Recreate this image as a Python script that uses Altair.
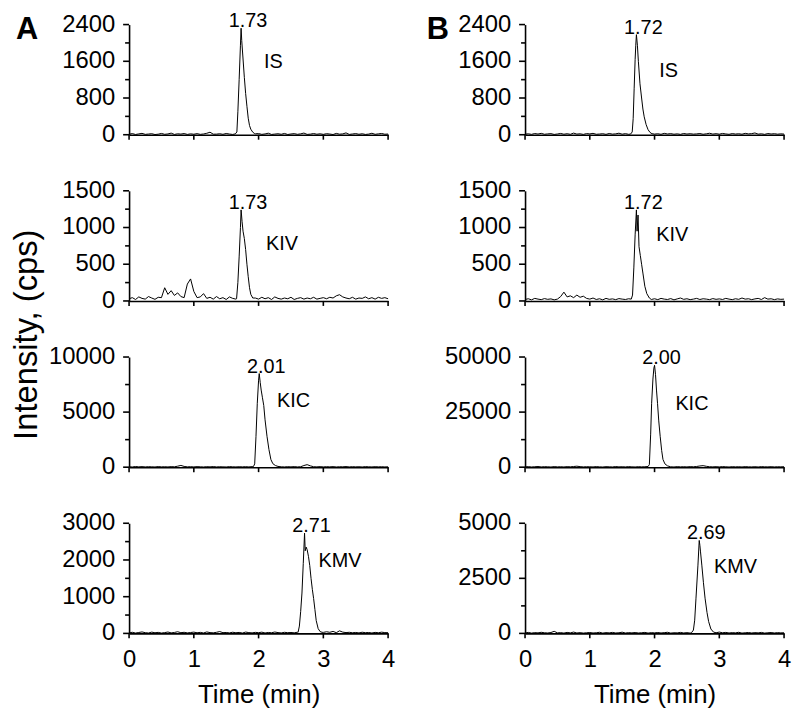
import altair as alt
import pandas as pd

FONT = "Liberation Sans, Arial, Helvetica, sans-serif"

# sampling grid of the baseline (min)
BASE_T = [0.00, 0.05, 0.10, 0.15, 0.20, 0.25, 0.30, 0.35, 0.40, 0.45,
          0.50, 0.55, 0.60, 0.65, 0.70, 0.75, 0.80, 0.85, 0.90, 0.95,
          1.00, 1.05, 1.10, 1.15, 1.20, 1.25, 1.30, 1.35, 1.40, 1.45,
          1.50, 1.55, 1.60, 1.65, 1.70, 1.75, 1.80, 1.85, 1.90, 1.95,
          2.00, 2.05, 2.10, 2.15, 2.20, 2.25, 2.30, 2.35, 2.40, 2.45,
          2.50, 2.55, 2.60, 2.65, 2.70, 2.75, 2.80, 2.85, 2.90, 2.95,
          3.00, 3.05, 3.10, 3.15, 3.20, 3.25, 3.30, 3.35, 3.40, 3.45,
          3.50, 3.55, 3.60, 3.65, 3.70, 3.75, 3.80, 3.85, 3.90, 3.95,
          4.00]

# ---------------- Panel A ----------------
IS_A_BASE = [10, 25, 5, 18, 30, 8, 15, 22, 4, 12, 28, 9, 17, 35, 6, 20, 14, 26, 7, 19,
             11, 24, 8, 16, 31, 55, 12, 13, 21, 9, 27, 15, 6, 18, 10, 22, 14, 30, 12, 20,
             25, 8, 17, 33, 6, 14, 21, 10, 28, 5, 16, 24, 9, 19, 36, 7, 13, 26, 11, 20,
             8, 23, 15, 4, 29, 12, 18, 40, 7, 16, 25, 10, 21, 6, 14, 32, 9, 19, 27, 11,
             15]
IS_A_PEAK_T = [1.64, 1.665, 1.68, 1.70, 1.72, 1.73, 1.74, 1.76, 1.78, 1.80, 1.82, 1.84, 1.86, 1.88, 1.91, 1.94]
IS_A_PEAK_V = [18, 60, 500, 1200, 1950, 2320, 2050, 1650, 1250, 900, 620, 360, 200, 120, 55, 25]

KIV_A_BASE = [30, 45, 20, 55, 35, 25, 60, 40, 22, 50, 45, 180, 90, 140, 75, 110, 60, 45, 230, 300,
              130, 45, 55, 100, 35, 50, 25, 60, 30, 45, 20, 55, 35, 25, 40, 30, 45, 25, 50, 40,
              25, 50, 30, 45, 20, 55, 35, 25, 40, 30, 50, 20, 35, 45, 25, 40, 30, 50, 25, 35,
              45, 30, 50, 40, 70, 85, 55, 40, 30, 50, 25, 40, 35, 55, 30, 45, 25, 50, 35, 45,
              30]
KIV_A_PEAK_T = [1.66, 1.68, 1.70, 1.72, 1.73, 1.745, 1.76, 1.78, 1.80, 1.82, 1.84, 1.86, 1.88, 1.91]
KIV_A_PEAK_V = [30, 250, 600, 1000, 1240, 1080, 950, 850, 700, 500, 330, 180, 90, 40]

KIC_A_BASE = [40, 20, 60, 30, 50, 25, 45, 35, 20, 55, 30, 40, 25, 50, 35, 90, 160, 70, 30, 45,
              25, 50, 35, 20, 45, 30, 55, 25, 40, 30, 20, 50, 35, 25, 40, 30, 45, 25, 50, 35,
              40, 25, 50, 30, 45, 20, 55, 35, 25, 45, 30, 50, 25, 40, 150, 230, 120, 40, 30, 50,
              25, 45, 30, 50, 20, 40, 35, 55, 25, 45, 30, 40, 20, 50, 35, 25, 45, 30, 40, 25,
              35]
KIC_A_PEAK_T = [1.92, 1.94, 1.96, 1.98, 2.00, 2.01, 2.025, 2.04, 2.06, 2.08, 2.10, 2.13, 2.16, 2.19, 2.22, 2.26, 2.30]
KIC_A_PEAK_V = [50, 300, 2800, 5800, 7900, 8500, 7700, 7000, 6300, 5600, 4300, 2800, 1600, 700, 320, 150, 70]

KMV_A_BASE = [15, 30, 10, 25, 40, 20, 12, 35, 18, 28, 10, 22, 38, 15, 26, 45, 20, 30, 14, 24,
              35, 18, 28, 12, 40, 22, 16, 30, 50, 20, 25, 14, 32, 18, 27, 10, 36, 22, 15, 29,
              20, 34, 12, 26, 18, 38, 22, 14, 30, 20, 25, 16, 32, 20, 28, 18, 35, 24, 30, 40,
              28, 45, 30, 55, 20, 70, 35, 22, 30, 18, 26, 14, 32, 20, 25, 12, 28, 18, 34, 22,
              20]
KMV_A_PEAK_T = [2.61, 2.63, 2.65, 2.67, 2.69, 2.71, 2.72, 2.735, 2.75, 2.77, 2.79, 2.81, 2.83, 2.85, 2.87, 2.89, 2.92, 2.95, 2.98]
KMV_A_PEAK_V = [30, 200, 600, 1100, 1900, 2730, 2250, 2350, 2280, 2100, 1850, 1500, 1200, 950, 650, 350, 130, 50, 30]

# ---------------- Panel B ----------------
IS_B_BASE = [12, 20, 8, 26, 15, 30, 10, 18, 24, 6, 16, 28, 11, 22, 9, 35, 14, 20, 7, 25,
             18, 30, 10, 15, 22, 8, 27, 13, 19, 33, 12, 24, 9, 17, 20, 28, 15, 22, 10, 26,
             14, 21, 9, 30, 16, 24, 11, 19, 8, 27, 15, 22, 13, 18, 26, 10, 20, 32, 14, 23,
             12, 28, 17, 9, 25, 15, 21, 11, 30, 18, 24, 38, 13, 20, 8, 26, 16, 22, 12, 19,
             14]
IS_B_PEAK_T = [1.63, 1.655, 1.67, 1.685, 1.70, 1.71, 1.72, 1.735, 1.75, 1.775, 1.80, 1.82, 1.84, 1.87, 1.90, 1.93, 1.96]
IS_B_PEAK_V = [15, 60, 350, 1000, 1640, 1950, 2180, 1950, 1600, 1110, 800, 560, 390, 220, 110, 50, 22]

KIV_B_BASE = [20, 30, 15, 35, 25, 18, 32, 22, 28, 15, 25, 60, 120, 55, 70, 45, 80, 50, 65, 35,
              25, 40, 20, 30, 15, 35, 22, 28, 18, 32, 25, 20, 30, 22, 35, 28, 40, 25, 30, 20,
              30, 18, 35, 25, 20, 32, 15, 28, 40, 22, 30, 18, 25, 35, 20, 30, 25, 18, 32, 22,
              28, 20, 35, 25, 18, 30, 22, 40, 25, 30, 18, 28, 35, 20, 45, 25, 30, 18, 28, 22,
              25]
KIV_B_PEAK_T = [1.64, 1.66, 1.68, 1.70, 1.72, 1.73, 1.745, 1.76, 1.78, 1.80, 1.82, 1.85, 1.88, 1.92]
KIV_B_PEAK_V = [25, 80, 450, 900, 1240, 950, 1170, 740, 620, 500, 380, 200, 100, 40]

KIC_B_BASE = [150, 250, 100, 200, 300, 120, 220, 180, 90, 260, 140, 200, 110, 240, 170, 300, 450, 250, 130, 210,
              180, 120, 260, 150, 90, 230, 170, 110, 280, 140, 200, 120, 250, 160, 100, 220, 150, 190, 250, 300,
              200, 140, 260, 120, 220, 170, 100, 240, 150, 210, 130, 250, 180, 320, 550, 700, 400, 200, 150, 230,
              120, 260, 180, 90, 220, 150, 200, 110, 240, 160, 130, 210, 100, 250, 170, 140, 220, 120, 190, 160,
              200]
KIC_B_PEAK_T = [1.90, 1.92, 1.94, 1.955, 1.975, 1.99, 2.00, 2.015, 2.03, 2.046, 2.065, 2.087, 2.11, 2.13, 2.16, 2.20, 2.24]
KIC_B_PEAK_V = [300, 1200, 15000, 29000, 40000, 45000, 46250, 42000, 35000, 29000, 21000, 14000, 7500, 3500, 1500, 600, 250]

KMV_B_BASE = [20, 45, 15, 35, 25, 50, 30, 20, 40, 95, 25, 35, 15, 45, 25, 60, 20, 35, 15, 30,
              40, 20, 30, 50, 15, 35, 25, 45, 20, 30, 55, 18, 35, 25, 40, 20, 30, 45, 15, 35,
              25, 40, 20, 35, 50, 15, 30, 25, 45, 20, 35, 15, 40, 30, 25, 50, 20, 35, 45, 25,
              60, 30, 45, 20, 35, 25, 50, 15, 30, 40, 20, 35, 25, 45, 15, 30, 40, 20, 35, 25,
              30]
KMV_B_PEAK_T = [2.57, 2.60, 2.62, 2.64, 2.67, 2.69, 2.70, 2.71, 2.73, 2.755, 2.78, 2.81, 2.835, 2.87, 2.91, 2.95]
KMV_B_PEAK_V = [30, 150, 600, 1600, 3100, 4220, 4000, 3700, 3100, 2300, 1600, 950, 540, 200, 60, 30]

# compounds, retention-time labels, apex intensities, y-axis ticks
COMPOUNDS = ["IS", "KIV", "KIC", "KMV"]
RT_A = ["1.73", "1.73", "2.01", "2.71"]
RT_B = ["1.72", "1.72", "2.00", "2.69"]
APEX_A = [2320, 1240, 8500, 2730]
APEX_B = [2180, 1240, 46250, 4220]
YMAJOR_A = [[0, 800, 1600, 2400], [0, 500, 1000, 1500], [0, 5000, 10000], [0, 1000, 2000, 3000]]
YMINOR_A = [[400, 1200, 2000], [250, 750, 1250], [2500, 7500], [500, 1500, 2500]]
YMAJOR_B = [[0, 800, 1600, 2400], [0, 500, 1000, 1500], [0, 25000, 50000], [0, 2500, 5000]]
YMINOR_B = [[400, 1200, 2000], [250, 750, 1250], [12500, 37500], [1250, 3750]]
X_TICKS = [0, 1, 2, 3, 4]

TRACES_A = [(IS_A_BASE, IS_A_PEAK_T, IS_A_PEAK_V), (KIV_A_BASE, KIV_A_PEAK_T, KIV_A_PEAK_V),
            (KIC_A_BASE, KIC_A_PEAK_T, KIC_A_PEAK_V), (KMV_A_BASE, KMV_A_PEAK_T, KMV_A_PEAK_V)]
TRACES_B = [(IS_B_BASE, IS_B_PEAK_T, IS_B_PEAK_V), (KIV_B_BASE, KIV_B_PEAK_T, KIV_B_PEAK_V),
            (KIC_B_BASE, KIC_B_PEAK_T, KIC_B_PEAK_V), (KMV_B_BASE, KMV_B_PEAK_T, KMV_B_PEAK_V)]

# layout of the compound-name annotations (pixel offsets)
NAME_DX_A = [23, 25, 18, 14]
NAME_Y_A = [44, 60, 50, 44]
NAME_DX_B = [23, 20, 21, 15]
NAME_Y_B = [53, 51, 53, 50]

W, H = 261, 111


def trace_df(base, pt, pv):
    assert len(base) == len(BASE_T)
    rows = [(t, v) for t, v in zip(BASE_T, base) if t < pt[0] or t > pt[-1]]
    rows += list(zip(pt, pv))
    rows.sort()
    return pd.DataFrame(rows, columns=["t", "v"])


def panel(trace, name, rt, apex, ymajor, yminor, name_dx, name_y, bottom, letter=None, letter_x=0, ytitle=False):
    df = trace_df(*trace)
    ymax = ymajor[-1]
    x_axis_kw = dict(values=X_TICKS, format="d", ticks=False, labelPadding=14,
                     labelOverlap=False, labelFlush=False)
    if bottom:
        x_axis_kw.update(title="Time (min)", titleFontSize=26, titlePadding=11, labels=True)
    else:
        x_axis_kw.update(title=None, labels=False)
    xs = alt.Scale(domain=[0, 4], nice=False)
    ys = alt.Scale(domain=[0, ymax], nice=False)
    x = alt.X("t:Q", scale=xs, axis=alt.Axis(**x_axis_kw))
    y = alt.Y("v:Q", scale=ys,
              axis=alt.Axis(values=ymajor, title=None, ticks=False, labels=False))
    line = alt.Chart(df).mark_line(color="black", strokeWidth=1).encode(x=x, y=y)

    # y ticks and labels, placed through the y scale
    ymaj_df = pd.DataFrame({"v": ymajor, "lab": [str(v) for v in ymajor]})
    ymin_df = pd.DataFrame({"v": yminor})
    ymaj_ticks = alt.Chart(ymaj_df).mark_rule(color="black", strokeWidth=1.6).encode(
        y="v:Q", x=alt.value(0), x2=alt.value(-6))
    ymin_ticks = alt.Chart(ymin_df).mark_rule(color="black", strokeWidth=1.6).encode(
        y="v:Q", x=alt.value(0), x2=alt.value(-4))
    ylabels = alt.Chart(ymaj_df).mark_text(font=FONT, fontSize=24, align="right", baseline="middle",
                                           color="black").encode(
        y="v:Q", x=alt.value(-14), text="lab:N")
    # x ticks, placed through the x scale
    xt_df = pd.DataFrame({"t": X_TICKS})
    xticks = alt.Chart(xt_df).mark_rule(color="black", strokeWidth=1.6).encode(
        x="t:Q", y=alt.value(H), y2=alt.value(H + 5))

    lab_df = pd.DataFrame({"t": [float(rt)], "v": [apex], "lab": [rt], "name": [name]})
    rt_text = alt.Chart(lab_df).mark_text(font=FONT, fontSize=20, align="center", baseline="alphabetic",
                                          dx=7, dy=-1, color="black").encode(
        x="t:Q", y="v:Q", text="lab:N")
    name_text = alt.Chart(lab_df).mark_text(font=FONT, fontSize=20, align="left", baseline="alphabetic",
                                            dx=name_dx, color="black").encode(
        x="t:Q", y=alt.value(name_y), text="name:N")
    layers = [line, ymaj_ticks, ymin_ticks, ylabels, xticks, rt_text, name_text]
    if letter:
        let_df = pd.DataFrame({"lab": [letter]})
        layers.append(alt.Chart(let_df).mark_text(font=FONT, fontSize=31, fontWeight="bold", align="left",
                                                  baseline="alphabetic", color="black").encode(
            x=alt.value(letter_x), y=alt.value(15), text="lab:N"))
    if ytitle:
        tdf = pd.DataFrame({"lab": ["Intensity, (cps)"]})
        layers.append(alt.Chart(tdf).mark_text(font=FONT, fontSize=33, angle=270, align="center",
                                               baseline="alphabetic", color="black").encode(
            x=alt.value(-93), y=alt.value(145), text="lab:N"))
    return alt.layer(*layers).properties(width=W, height=H)


charts = []
for i in range(4):
    charts.append(panel(TRACES_A[i], COMPOUNDS[i], RT_A[i], APEX_A[i], YMAJOR_A[i], YMINOR_A[i],
                        NAME_DX_A[i], NAME_Y_A[i], bottom=(i == 3),
                        letter="A" if i == 0 else None, letter_x=-114, ytitle=(i == 1)))
    charts.append(panel(TRACES_B[i], COMPOUNDS[i], RT_B[i], APEX_B[i], YMAJOR_B[i], YMINOR_B[i],
                        NAME_DX_B[i], NAME_Y_B[i], bottom=(i == 3),
                        letter="B" if i == 0 else None, letter_x=-99))

chart = alt.concat(*charts, columns=2, spacing={"row": 56.5, "column": 138}, bounds="flush").properties(
    padding={"left": 2, "top": 0, "right": 0, "bottom": 2}
).configure_view(stroke="transparent").configure_axis(
    domainColor="black", domainWidth=1.6,
    labelColor="black", labelFont=FONT, labelFontSize=24, titleFont=FONT, titleColor="black",
    titleFontWeight="normal", grid=False
)

chart.save("out.html", embed_options={"renderer": "svg", "actions": False})
